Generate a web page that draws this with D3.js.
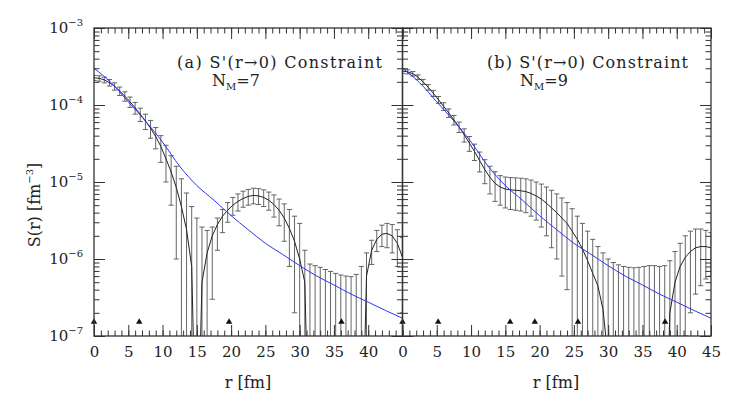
<!DOCTYPE html>
<html>
<head>
<meta charset="utf-8">
<script src="https://cdn.jsdelivr.net/npm/d3@7"></script>
<style>
body { margin: 0; background: #fff; }
text { font-family: "DejaVu Serif", serif; fill: #222; }
</style>
</head>
<body>
<svg id="chart" width="733" height="409"></svg>
<script>
// sample radii (fm) of the error-bar points
var rGrid = [0, 0.75, 1.5, 2.25, 3, 3.75, 4.5, 5.25, 6, 6.75, 7.5, 8.25, 9, 9.75, 10.5, 11.25,
    12, 12.75, 13.5, 14.25, 15, 15.75, 16.5, 17.25, 18, 18.75, 19.5, 20.25, 21, 21.75, 22.5,
    23.25, 24, 24.75, 25.5, 26.25, 27, 27.75, 28.5, 29.25, 30, 30.75, 31.5, 32.25, 33, 33.75,
    34.5, 35.25, 36, 36.75, 37.5, 38.25, 39, 39.75, 40.5, 41.25, 42, 42.75, 43.5, 44.25, 45];

// panel (a), N_M = 7
var centerA = [2.25e-4, 2.22e-4, 2.12e-4, 1.95e-4, 1.75e-4, 1.52e-4, 1.3e-4, 1.1e-4, 9.2e-5, 7.6e-5,
    6.2e-5, 5.0e-5, 3.9e-5, 2.9e-5, 2.0e-5, 1.35e-5, 8.5e-6, 4.8e-6, 2.4e-6, 8e-7,
    -2e-7, 5e-7, 1.2e-6, 2.0e-6, 2.8e-6, 3.6e-6, 4.3e-6, 5.0e-6, 5.6e-6, 6.1e-6,
    6.5e-6, 6.7e-6, 6.6e-6, 6.3e-6, 5.8e-6, 5.1e-6, 4.3e-6, 3.4e-6, 2.5e-6, 1.7e-6,
    1.0e-6, 5e-7, -1e-7, -4e-7, -6e-7, -7e-7, -8e-7, -8e-7, -8e-7, -7e-7,
    -6e-7, -4e-7, -1e-7, 6e-7, 1.3e-6, 1.8e-6, 2.1e-6, 2.15e-6, 2.0e-6, 1.6e-6, 1.05e-6];
var upperA = [2.42e-4, 2.4e-4, 2.3e-4, 2.14e-4, 1.94e-4, 1.71e-4, 1.48e-4, 1.27e-4, 1.08e-4, 9.1e-5,
    7.6e-5, 6.3e-5, 5.1e-5, 4.0e-5, 3.0e-5, 2.2e-5, 1.6e-5, 1.1e-5, 7.2e-6, 4.8e-6,
    3.4e-6, 2.6e-6, 2.35e-6, 2.6e-6, 3.4e-6, 4.4e-6, 5.4e-6, 6.3e-6, 7.0e-6, 7.6e-6,
    8.0e-6, 8.3e-6, 8.2e-6, 7.9e-6, 7.4e-6, 6.8e-6, 6.0e-6, 5.2e-6, 4.4e-6, 3.6e-6,
    2.9e-6, 1.3e-6, 8.6e-7, 8.2e-7, 7.8e-7, 7.3e-7, 6.9e-7, 6.5e-7, 6.2e-7, 6.0e-7,
    5.9e-7, 6.3e-7, 8.0e-7, 1.2e-6, 1.75e-6, 2.35e-6, 2.75e-6, 2.9e-6, 2.8e-6, 2.4e-6, 1.9e-6];
var lowerA = [2.08e-4, 2.04e-4, 1.94e-4, 1.76e-4, 1.56e-4, 1.33e-4, 1.12e-4, 9.3e-5, 7.6e-5, 6.1e-5,
    4.8e-5, 3.7e-5, 2.7e-5, 1.8e-5, 1.0e-5, 5e-6, 1.0e-6, 0, 0, 0,
    0, 0, 0, 3e-7, 1.3e-6, 2.2e-6, 3.0e-6, 3.7e-6, 4.2e-6, 4.7e-6,
    5.0e-6, 5.2e-6, 5.1e-6, 4.8e-6, 4.3e-6, 3.5e-6, 2.7e-6, 1.7e-6, 8e-7, 2e-7,
    0, 0, 0, 0, 0, 0, 0, 0, 0, 0,
    0, 0, 0, 0, 8.5e-7, 1.25e-6, 1.45e-6, 1.4e-6, 1.2e-6, 8e-7, 2e-7];

// panel (b), N_M = 9
var centerB = [2.75e-4, 2.7e-4, 2.55e-4, 2.3e-4, 2.0e-4, 1.7e-4, 1.42e-4, 1.17e-4, 9.6e-5, 7.9e-5,
    6.4e-5, 5.2e-5, 4.1e-5, 3.2e-5, 2.5e-5, 1.9e-5, 1.45e-5, 1.15e-5, 9.6e-6, 8.6e-6,
    8.1e-6, 7.9e-6, 7.8e-6, 7.7e-6, 7.5e-6, 7.1e-6, 6.6e-6, 6.0e-6, 5.3e-6, 4.6e-6,
    4.0e-6, 3.4e-6, 2.9e-6, 2.3e-6, 1.8e-6, 1.35e-6, 9.5e-7, 6.5e-7, 4.5e-7, 2.2e-7,
    5e-8, -1e-7, -2e-7, -3e-7, -3.5e-7, -3.5e-7, -3e-7, -2.5e-7, -2e-7, -2e-7,
    -2e-7, -1e-7, 2e-7, 5e-7, 8e-7, 1.05e-6, 1.25e-6, 1.4e-6, 1.45e-6, 1.45e-6, 1.4e-6];
var upperB = [2.92e-4, 2.87e-4, 2.72e-4, 2.46e-4, 2.15e-4, 1.84e-4, 1.55e-4, 1.29e-4, 1.07e-4, 8.9e-5,
    7.3e-5, 6.0e-5, 4.9e-5, 3.9e-5, 3.1e-5, 2.45e-5, 1.95e-5, 1.6e-5, 1.36e-5, 1.21e-5,
    1.16e-5, 1.14e-5, 1.13e-5, 1.12e-5, 1.1e-5, 1.06e-5, 1.0e-5, 9.4e-6, 8.6e-6, 7.8e-6,
    7.0e-6, 6.2e-6, 5.4e-6, 4.5e-6, 3.6e-6, 2.9e-6, 2.3e-6, 1.8e-6, 1.45e-6, 1.2e-6,
    1.0e-6, 9e-7, 8.4e-7, 8.0e-7, 7.8e-7, 7.7e-7, 7.8e-7, 8.0e-7, 8.2e-7, 8.2e-7,
    8.0e-7, 8.2e-7, 9.5e-7, 1.25e-6, 1.6e-6, 2.0e-6, 2.3e-6, 2.45e-6, 2.45e-6, 2.35e-6, 2.2e-6];
var lowerB = [2.58e-4, 2.53e-4, 2.38e-4, 2.14e-4, 1.85e-4, 1.56e-4, 1.29e-4, 1.05e-4, 8.5e-5, 6.9e-5,
    5.5e-5, 4.4e-5, 3.3e-5, 2.5e-5, 1.9e-5, 1.35e-5, 9.5e-6, 7.0e-6, 5.6e-6, 5.0e-6,
    4.6e-6, 4.4e-6, 4.3e-6, 4.2e-6, 4.0e-6, 3.6e-6, 3.2e-6, 2.6e-6, 2.0e-6, 1.4e-6,
    1.0e-6, 6e-7, 4e-7, 1e-7, 0, 0, 0, 0, 0, 0,
    0, 0, 0, 0, 0, 0, 0, 0, 0, 0,
    0, 0, 0, 0, 0, 1e-7, 2e-7, 3.5e-7, 4.5e-7, 5.5e-7, 6e-7];

// smooth reference curve (blue), same in both panels
var blueR = [0, 2.5, 5, 7.5, 10, 12.5, 15, 17.5, 20, 22.5, 25, 27.5, 30, 32.5, 35, 37.5, 40, 42.5, 45];
var blueS = [3.0e-4, 1.95e-4, 1.1e-4, 6.2e-5, 3.3e-5, 1.6e-5, 9.0e-6, 5.8e-6, 3.65e-6, 2.4e-6,
    1.6e-6, 1.15e-6, 8.2e-7, 6.0e-7, 4.6e-7, 3.5e-7, 2.75e-7, 2.15e-7, 1.7e-7];

// little triangles along the bottom
var marksA = [0, 6.6, 19.7, 36.1];
var marksB = [0, 5.2, 15.7, 19.3, 25.6, 38.3];

var yExp = [-3, -4, -5, -6, -7];
var xMajorA = [0, 5, 10, 15, 20, 25, 30, 35, 40];
var xMajorB = [0, 5, 10, 15, 20, 25, 30, 35, 40, 45];

var svg = d3.select("#chart");
var plotTop = 28, plotBottom = 336;
var y = d3.scaleLog().domain([1e-7, 1e-3]).range([plotBottom, plotTop]);

var panels = [
    { id: "a", x0: 94, x1: 402.5, c: centerA, u: upperA, l: lowerA, marks: marksA,
      ticks: xMajorA, tag: "(a)", nm: "7", textX: 177, textEnd: 382, nX: 212, xlab: 248 },
    { id: "b", x0: 402.5, x1: 711, c: centerB, u: upperB, l: lowerB, marks: marksB,
      ticks: xMajorB, tag: "(b)", nm: "9", textX: 487, textEnd: 688, nX: 520, xlab: 556 }
];

var minorY = [];
for (var e = -7; e < -3; e++) {
    for (var k = 2; k < 10; k++) minorY.push(k * Math.pow(10, e));
}

panels.forEach(function (p) {
    var x = d3.scaleLinear().domain([0, 45]).range([p.x0, p.x1]);
    var g = svg.append("g");

    g.append("clipPath").attr("id", "clip-" + p.id)
        .append("rect")
        .attr("x", p.x0).attr("y", plotTop)
        .attr("width", p.x1 - p.x0).attr("height", plotBottom - plotTop);

    var plot = g.append("g").attr("clip-path", "url(#clip-" + p.id + ")");

    // error bars
    var bars = plot.append("g").attr("stroke", "#555").attr("stroke-width", 0.9);
    rGrid.forEach(function (r, i) {
        var xi = x(r);
        var lo = p.l[i] > 0 ? p.l[i] : 1e-9;
        bars.append("line")
            .attr("x1", xi).attr("x2", xi)
            .attr("y1", y(p.u[i])).attr("y2", y(lo));
        bars.append("line")
            .attr("x1", xi - 2.6).attr("x2", xi + 2.6)
            .attr("y1", y(p.u[i])).attr("y2", y(p.u[i]));
        if (p.l[i] > 0) {
            bars.append("line")
                .attr("x1", xi - 2.6).attr("x2", xi + 2.6)
                .attr("y1", y(lo)).attr("y2", y(lo));
        }
    });

    // central curve; non-positive values dive out of the frame
    var line = d3.line()
        .x(function (d) { return x(d[0]); })
        .y(function (d) { return y(d[1] > 0 ? d[1] : 1e-9); });
    plot.append("path")
        .datum(rGrid.map(function (r, i) { return [r, p.c[i]]; }))
        .attr("d", line)
        .attr("fill", "none").attr("stroke", "#222").attr("stroke-width", 1);

    // blue curve
    var blueLine = d3.line()
        .x(function (d) { return x(d[0]); })
        .y(function (d) { return y(d[1]); })
        .curve(d3.curveMonotoneX);
    plot.append("path")
        .datum(blueR.map(function (r, i) { return [r, blueS[i]]; }))
        .attr("d", blueLine)
        .attr("fill", "none").attr("stroke", "#2b35f0").attr("stroke-width", 1);

    // triangles
    g.selectAll("path.mark")
        .data(p.marks).enter()
        .append("path").attr("class", "mark")
        .attr("d", d3.symbol(d3.symbolTriangle, 18))
        .attr("transform", function (d) { return "translate(" + x(d) + ",322)"; })
        .attr("fill", "#111");

    // x axes, ticks pointing inward
    var bottomAxis = d3.axisBottom(x).tickValues(p.ticks)
        .tickSizeInner(-11).tickSizeOuter(0).tickPadding(10);
    var ax = g.append("g").attr("transform", "translate(0," + plotBottom + ")").call(bottomAxis);
    ax.selectAll("text").attr("font-size", 15).attr("font-family", "DejaVu Serif");
    ax.selectAll(".domain").remove();
    g.append("g").attr("transform", "translate(0," + plotBottom + ")")
        .call(d3.axisBottom(x).tickValues(d3.range(0, 46)).tickSizeInner(-5.5).tickSizeOuter(0).tickFormat(""))
        .select(".domain").remove();
    g.append("g").attr("transform", "translate(0," + plotTop + ")")
        .call(d3.axisTop(x).tickValues(xMajorB).tickSizeInner(-11).tickSizeOuter(0).tickFormat(""))
        .select(".domain").remove();
    g.append("g").attr("transform", "translate(0," + plotTop + ")")
        .call(d3.axisTop(x).tickValues(d3.range(0, 46)).tickSizeInner(-5.5).tickSizeOuter(0).tickFormat(""))
        .select(".domain").remove();

    // y axes on both sides of the panel
    var majorY = yExp.map(function (n) { return Math.pow(10, n); });
    [[p.x0, d3.axisLeft], [p.x1, d3.axisRight]].forEach(function (side) {
        g.append("g").attr("transform", "translate(" + side[0] + ",0)")
            .call(side[1](y).tickValues(majorY).tickSizeInner(-11).tickSizeOuter(0).tickFormat(""))
            .select(".domain").remove();
        g.append("g").attr("transform", "translate(" + side[0] + ",0)")
            .call(side[1](y).tickValues(minorY).tickSizeInner(-5.5).tickSizeOuter(0).tickFormat(""))
            .select(".domain").remove();
    });

    g.selectAll(".tick line").attr("stroke", "#333").attr("stroke-width", 1);

    // frame
    g.append("rect")
        .attr("x", p.x0).attr("y", plotTop)
        .attr("width", p.x1 - p.x0).attr("height", plotBottom - plotTop)
        .attr("fill", "none").attr("stroke", "#333").attr("stroke-width", 1.3);

    // annotation
    g.append("text")
        .attr("x", p.textX).attr("y", 68)
        .attr("font-size", 16)
        .attr("textLength", p.textEnd - p.textX).attr("lengthAdjust", "spacing")
        .text(p.tag + "  S'(r\u21920)  Constraint");
    var nm = g.append("text").attr("x", p.nX).attr("y", 86).attr("font-size", 16);
    nm.append("tspan").text("N");
    nm.append("tspan").attr("font-size", 10).attr("dy", 4).text("M");
    nm.append("tspan").attr("dy", -4).text("=" + p.nm);

    // x label
    g.append("text")
        .attr("x", p.xlab).attr("y", 388)
        .attr("text-anchor", "middle").attr("font-size", 16)
        .text("r  [fm]");
});

// y tick labels
yExp.forEach(function (n) {
    var t = svg.append("text")
        .attr("x", 83).attr("y", y(Math.pow(10, n)) + 5)
        .attr("text-anchor", "end").attr("font-size", 15);
    t.append("tspan").text("10");
    t.append("tspan").attr("font-size", 10).attr("dy", -7).text("\u2212" + (-n));
});

// y label
var yl = svg.append("text")
    .attr("transform", "translate(40,205) rotate(-90)")
    .attr("text-anchor", "middle").attr("font-size", 16);
yl.append("tspan").text("S(r)  [fm");
yl.append("tspan").attr("font-size", 10).attr("dy", -7).text("\u22123");
yl.append("tspan").attr("dy", 7).text("]");
</script>
</body>
</html>
